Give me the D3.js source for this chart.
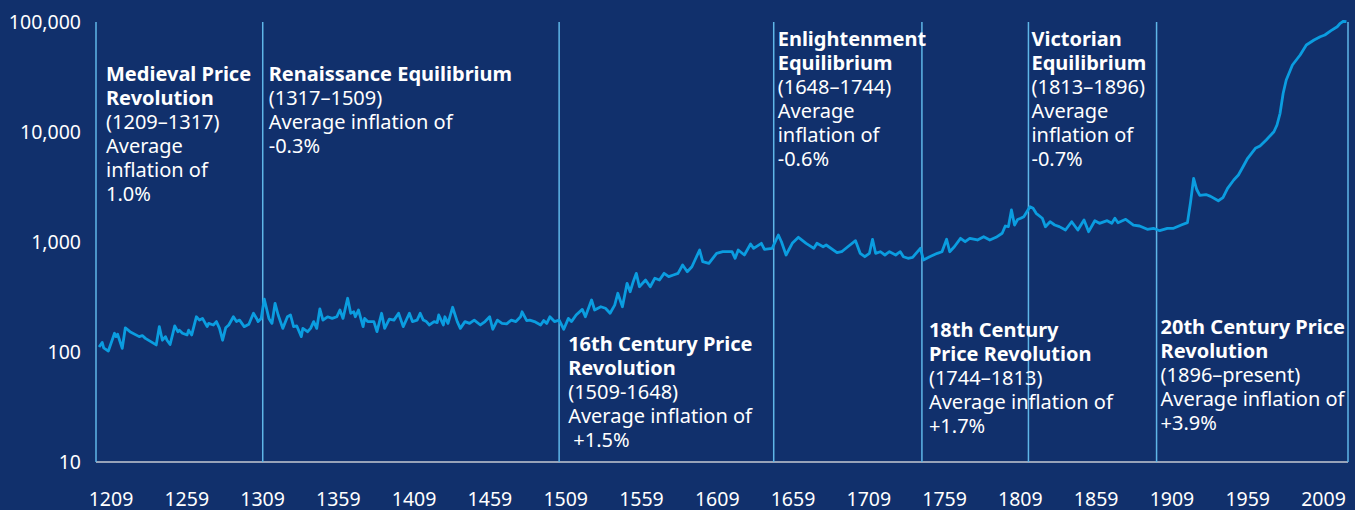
<!DOCTYPE html>
<html>
<head>
<meta charset="utf-8">
<script src="https://cdn.jsdelivr.net/npm/d3@7/dist/d3.min.js"></script>
<style>
  body { margin: 0; background: #11306c; }
  svg { display: block; font-family: "Noto Sans", "Open Sans", sans-serif; }
</style>
</head>
<body>
<svg id="chart" width="1355" height="510"></svg>
<script>
// price index (log scale)
const years = [1211, 1213, 1214, 1217, 1221, 1222, 1223, 1226, 1228, 1231, 1237, 1239, 1241, 1248, 1250, 1252, 1254, 1255, 1257, 1260,
  1262, 1263, 1265, 1268, 1269, 1271, 1274, 1276, 1278, 1281, 1282, 1285, 1287, 1289, 1291, 1293, 1295, 1298, 1300, 1302,
  1305, 1308, 1311, 1313, 1314, 1316, 1318, 1321, 1323, 1325, 1327, 1330, 1333, 1335, 1337, 1339, 1342, 1343, 1346, 1348,
  1350, 1352, 1354, 1356, 1359, 1362, 1365, 1367, 1369, 1372, 1374, 1376, 1377, 1379, 1382, 1383, 1385, 1389, 1391, 1394,
  1396, 1399, 1402, 1405, 1408, 1412, 1414, 1417, 1419, 1421, 1423, 1425, 1428, 1430, 1431, 1434, 1435, 1437, 1440, 1443,
  1445, 1448, 1451, 1454, 1458, 1461, 1464, 1466, 1469, 1472, 1475, 1478, 1481, 1484, 1485, 1488, 1490, 1493, 1497, 1499,
  1501, 1503, 1506, 1509, 1512, 1515, 1517, 1520, 1524, 1526, 1530, 1532, 1536, 1539, 1542, 1545, 1547, 1550, 1553, 1555,
  1557, 1559, 1561, 1565, 1568, 1571, 1574, 1577, 1580, 1583, 1586, 1589, 1592, 1595, 1597, 1600, 1602, 1606, 1611, 1615,
  1621, 1623, 1625, 1629, 1633, 1635, 1640, 1642, 1647, 1651, 1653, 1656, 1660, 1664, 1669, 1674, 1676, 1680, 1682, 1689,
  1692, 1696, 1701, 1704, 1707, 1710, 1712, 1714, 1717, 1720, 1723, 1727, 1730, 1732, 1735, 1738, 1743, 1745, 1749, 1754,
  1757, 1760, 1762, 1765, 1769, 1772, 1775, 1780, 1784, 1788, 1792, 1796, 1798, 1800, 1802, 1804, 1806, 1808, 1810, 1814,
  1816, 1818, 1822, 1824, 1827, 1830, 1833, 1837, 1841, 1845, 1849, 1852, 1856, 1859, 1864, 1867, 1869, 1871, 1876, 1881,
  1885, 1890, 1894, 1898, 1903, 1907, 1912, 1916, 1918, 1920, 1922, 1924, 1928, 1931, 1936, 1939, 1942, 1946, 1949, 1952,
  1955, 1960, 1963, 1967, 1972, 1974, 1976, 1978, 1980, 1984, 1989, 1993, 1998, 2002, 2005, 2009, 2013, 2015, 2017, 2019];

const prices = [111, 122, 109, 102, 148, 138, 145, 108, 166, 153, 138, 141, 133, 116, 170, 128, 138, 128, 117, 173,
  153, 158, 148, 143, 158, 143, 209, 195, 202, 170, 182, 176, 189, 164, 128, 166, 176, 209, 189, 195,
  170, 179, 225, 202, 189, 202, 303, 202, 182, 277, 217, 164, 209, 217, 170, 173, 138, 164, 153, 164,
  189, 164, 246, 195, 209, 202, 209, 241, 202, 308, 225, 232, 209, 241, 170, 202, 189, 189, 153, 225,
  164, 199, 195, 225, 170, 225, 189, 195, 225, 195, 189, 176, 189, 185, 217, 176, 209, 182, 255, 189,
  164, 189, 182, 195, 176, 189, 209, 161, 195, 182, 180, 195, 189, 209, 232, 193, 195, 189, 176, 193,
  182, 209, 189, 195, 161, 202, 189, 217, 244, 209, 297, 241, 258, 250, 225, 267, 342, 258, 421, 353,
  436, 519, 392, 451, 392, 468, 451, 519, 484, 501, 519, 618, 537, 596, 686, 846, 662, 640, 789, 816,
  816, 711, 846, 762, 959, 876, 973, 858, 876, 1158, 1006, 762, 973, 1103, 973, 876, 973, 906, 939, 800,
  816, 906, 1028, 789, 735, 789, 1058, 789, 816, 762, 816, 762, 816, 735, 711, 726, 876, 686, 735, 789,
  816, 1058, 816, 906, 1080, 1006, 1080, 1043, 1117, 1043, 1103, 1200, 1398, 1378, 1954, 1427, 1600, 1643, 1698, 2094,
  2024, 1824, 1643, 1378, 1529, 1427, 1380, 1285, 1529, 1285, 1585, 1241, 1562, 1479, 1562, 1479, 1643, 1498, 1608, 1427,
  1398, 1305, 1332, 1267, 1332, 1332, 1427, 1500, 2300, 3790, 3000, 2650, 2700, 2600, 2370, 2530, 3077, 3661, 4064, 4836,
  5768, 7112, 7460, 8460, 10060, 11580, 14790, 22490, 29700, 40640, 50120, 61800, 68600, 73500, 76200, 83400, 90600, 97300, 101500, 100700];

// periods
const startYears = [1209, 1317, 1509, 1648, 1744, 1813, 1896];
const titleLines = [
  ["Medieval Price", "Revolution"],
  ["Renaissance Equilibrium"],
  ["16th Century Price", "Revolution"],
  ["Enlightenment", "Equilibrium"],
  ["18th Century", "Price Revolution"],
  ["Victorian", "Equilibrium"],
  ["20th Century Price", "Revolution"]
];
const bodyLines = [
  ["(1209–1317)", "Average", "inflation of", "1.0%"],
  ["(1317–1509)", "Average inflation of", "-0.3%"],
  ["(1509-1648)", "Average inflation of", " +1.5%"],
  ["(1648–1744)", "Average", "inflation of", "-0.6%"],
  ["(1744–1813)", "Average inflation of", "+1.7%"],
  ["(1813–1896)", "Average", "inflation of", "-0.7%"],
  ["(1896–present)", "Average inflation of", "+3.9%"]
];

const yTicks = [10, 100, 1000, 10000, 100000];
const xTickLabels = [1209, 1259, 1309, 1359, 1409, 1459, 1509, 1559, 1609, 1659, 1709, 1759, 1809, 1859, 1909, 1959, 2009];

// label placement (offset from period line, baseline of first row)
const labelDx = [10, 6, 9, 4, 7, 3, 4];
const labelY = [81, 81, 351, 46, 337, 46, 334];

const svg = d3.select('#chart');
const W = 1355, H = 510;
const lineH = 24;

svg.append('rect').attr('width', W).attr('height', H).attr('fill', '#11306c');

const x = d3.scaleLinear().domain([1209, 2020]).range([96, 1348]);
const y = d3.scaleLog().domain([10, 100000]).range([462, 22]);
// the tick labels sit on their own evenly spaced scale
const xLabel = d3.scaleLinear().domain([1209, 2009]).range([110.5, 1323]);

// y axis labels
const yAxis = d3.axisLeft(y)
  .tickValues(yTicks)
  .tickFormat(d3.format(','))
  .tickSize(0)
  .tickPadding(15);
svg.append('g')
  .attr('transform', 'translate(' + x.range()[0] + ',0)')
  .call(yAxis)
  .call(g => g.select('.domain').remove())
  .selectAll('text')
  .attr('fill', '#ffffff')
  .style('font-size', '19.5px')
  .style('font-family', '"Noto Sans", sans-serif');

// x axis labels
const xAxis = d3.axisBottom(xLabel)
  .tickValues(xTickLabels)
  .tickFormat(d3.format('d'))
  .tickSize(0)
  .tickPadding(30);
svg.append('g')
  .attr('transform', 'translate(0,' + y.range()[0] + ')')
  .call(xAxis)
  .call(g => g.select('.domain').remove())
  .selectAll('text')
  .attr('fill', '#ffffff')
  .style('font-size', '19.5px')
  .style('font-family', '"Noto Sans", sans-serif');

// baseline
svg.append('line')
  .attr('x1', x.range()[0]).attr('x2', x.range()[1])
  .attr('y1', y(10)).attr('y2', y(10))
  .attr('stroke', '#c4c8d2')
  .attr('stroke-width', 1.5);

// period lines + right edge
svg.selectAll('.period')
  .data(startYears.concat([x.domain()[1]]))
  .enter()
  .append('line')
  .attr('class', 'period')
  .attr('x1', d => x(d)).attr('x2', d => x(d))
  .attr('y1', y(100000)).attr('y2', y(10))
  .attr('stroke', '#5fb6e8')
  .attr('stroke-width', 1.5);

// price line
const pts = years.map((d, i) => [d, prices[i]]);
svg.append('path')
  .datum(pts)
  .attr('fill', 'none')
  .attr('stroke', '#0b9de0')
  .attr('stroke-width', 2.8)
  .attr('stroke-linejoin', 'round')
  .attr('d', d3.line().x(d => x(d[0])).y(d => y(d[1])));

// annotations
startYears.forEach((yr, i) => {
  const t = svg.append('text')
    .attr('x', x(yr) + labelDx[i])
    .attr('y', labelY[i])
    .attr('fill', '#ffffff')
    .style('font-size', '20px')
    .style('white-space', 'pre');
  const rows = titleLines[i].map(s => ({s: s, b: true}))
    .concat(bodyLines[i].map(s => ({s: s, b: false})));
  rows.forEach((r, j) => {
    t.append('tspan')
      .attr('x', x(yr) + labelDx[i])
      .attr('y', labelY[i] + j * lineH)
      .attr('font-weight', r.b ? 700 : 400)
      .text(r.s);
  });
});
</script>
</body>
</html>
